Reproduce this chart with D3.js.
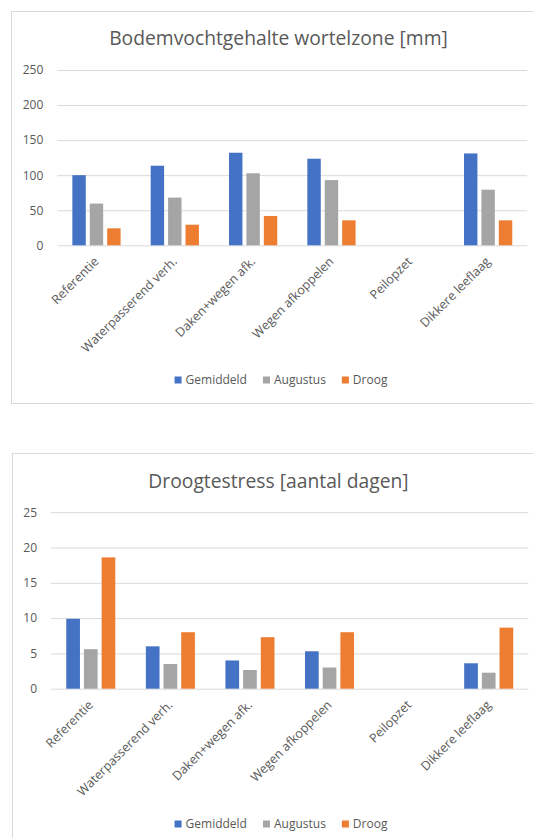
<!DOCTYPE html>
<html>
<head>
<meta charset="utf-8">
<script src="https://cdn.jsdelivr.net/npm/d3@7"></script>
<style>
  body { margin: 0; background: #fff; }
  svg { display: block; font-family: "Open Sans", sans-serif; }
</style>
</head>
<body>
<svg id="chart" width="533" height="838"></svg>
<script>
const categories = ["Referentie", "Waterpasserend verh.", "Daken+wegen afk.", "Wegen afkoppelen", "Peilopzet", "Dikkere leeflaag"]
const seriesNames = ["Gemiddeld", "Augustus", "Droog"]
const seriesColors = ["#4472C4", "#A5A5A5", "#ED7D31"]

// Bodemvochtgehalte wortelzone [mm]
const bodemGemiddeld = [100, 113.5, 132, 123.5, null, 131]
const bodemAugustus = [59.5, 68, 102.7, 93, null, 79.3]
const bodemDroog = [24.2, 29.4, 41.8, 35.6, null, 35.6]
const bodemTicks = [0, 50, 100, 150, 200, 250]

// Droogtestress [aantal dagen]
const stressGemiddeld = [9.9, 6.0, 4.0, 5.3, null, 3.6]
const stressAugustus = [5.6, 3.5, 2.65, 3.0, null, 2.27]
const stressDroog = [18.6, 8.0, 7.3, 8.0, null, 8.65]
const stressTicks = [0, 5, 10, 15, 20, 25]

const textColor = "#595959"
const gridColor = "#D9D9D9"

const svg = d3.select("#chart")

function drawChart(cfg) {
  const g = svg.append("g")

  // chart area border
  g.append("rect")
    .attr("x", cfg.box.x + 0.5)
    .attr("y", cfg.box.y + 0.5)
    .attr("width", cfg.box.w)
    .attr("height", cfg.box.h)
    .attr("fill", "#fff")
    .attr("stroke", gridColor)

  g.append("text")
    .attr("x", cfg.titleX)
    .attr("y", cfg.titleY)
    .attr("text-anchor", "middle")
    .attr("fill", textColor)
    .style("font-size", "19.3px")
    .text(cfg.title)

  const y = d3.scaleLinear()
    .domain([0, d3.max(cfg.ticks)])
    .range([cfg.bottom, cfg.top])

  const x0 = d3.scaleBand()
    .domain(categories)
    .range([cfg.left, cfg.right])

  const x1 = d3.scaleBand()
    .domain(seriesNames)
    .range([0, x0.bandwidth()])
    .paddingOuter(0.75)

  // gridlines + value labels
  const yAxis = g.append("g")
    .attr("transform", "translate(" + cfg.left + ",0)")
    .call(d3.axisLeft(y)
      .tickValues(cfg.ticks)
      .tickSize(-(cfg.right - cfg.left))
      .tickPadding(14))
  yAxis.select(".domain").remove()
  yAxis.selectAll("line").attr("stroke", gridColor)
  yAxis.selectAll("text")
    .attr("fill", textColor)
    .style("font-size", "12px")
    .style("font-family", "'Open Sans', sans-serif")

  // bars
  const rows = categories.map((c, i) => ({
    cat: c,
    vals: seriesNames.map((s, j) => ({ s: s, v: cfg.series[j][i], color: seriesColors[j] }))
  }))

  g.append("g")
    .selectAll("g")
    .data(rows)
    .enter()
    .append("g")
    .attr("transform", d => "translate(" + x0(d.cat) + ",0)")
    .selectAll("rect")
    .data(d => d.vals.filter(v => v.v != null))
    .enter()
    .append("rect")
    .attr("x", d => x1(d.s) + 2)
    .attr("width", x1.bandwidth() - 4)
    .attr("y", d => y(d.v))
    .attr("height", d => y(0) - y(d.v))
    .attr("fill", d => d.color)

  // category labels
  const xAxis = g.append("g")
    .attr("transform", "translate(0," + cfg.bottom + ")")
    .call(d3.axisBottom(x0).tickSize(0).tickPadding(0))
  xAxis.select(".domain").remove()
  xAxis.selectAll("text")
    .attr("fill", textColor)
    .style("font-size", "12.5px")
    .style("font-family", "'Open Sans', sans-serif")
    .attr("text-anchor", "end")
    .attr("dy", null)
    .attr("y", null)
    .attr("transform", "translate(3,17) rotate(-45)")

  // legend
  const legend = g.append("g")
  let lx = 0
  seriesNames.forEach((s, j) => {
    legend.append("rect")
      .attr("x", lx)
      .attr("y", -3.5)
      .attr("width", 7)
      .attr("height", 7)
      .attr("fill", seriesColors[j])
    const t = legend.append("text")
      .attr("x", lx + 11)
      .attr("y", 4.3)
      .attr("fill", textColor)
      .style("font-size", "12px")
      .text(s)
    lx += 11 + t.node().getComputedTextLength() + 16
  })
  lx -= 16
  legend.attr("transform", "translate(" + (cfg.legendX - lx / 2) + "," + cfg.legendY + ")")
}

drawChart({
  title: "Bodemvochtgehalte wortelzone [mm]",
  series: [bodemGemiddeld, bodemAugustus, bodemDroog],
  ticks: bodemTicks,
  box: { x: 11, y: 11, w: 535, h: 392 },
  titleX: 278.5, titleY: 44.5,
  left: 57.3, right: 527.3, top: 70, bottom: 245.3,
  legendX: 281, legendY: 380
})

drawChart({
  title: "Droogtestress [aantal dagen]",
  series: [stressGemiddeld, stressAugustus, stressDroog],
  ticks: stressTicks,
  box: { x: 12, y: 453, w: 535, h: 400 },
  titleX: 278.5, titleY: 487.5,
  left: 51, right: 528.5, top: 512.2, bottom: 688.7,
  legendX: 281, legendY: 824
})
</script>
</body>
</html>
